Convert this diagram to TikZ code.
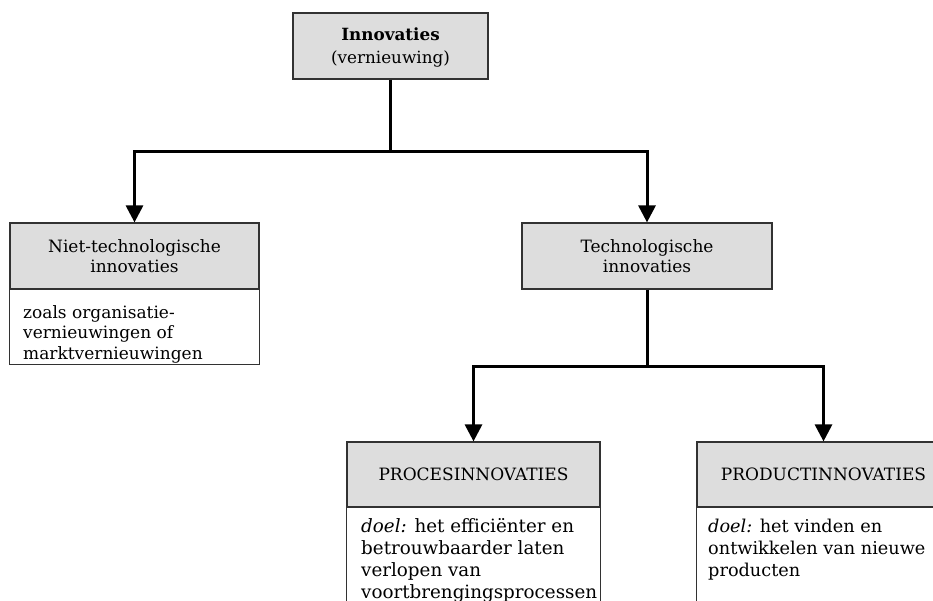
\documentclass[tikz,border=0pt]{standalone}
\usepackage{fontspec}
\setmainfont{DejaVu Serif}
\usetikzlibrary{arrows.meta}
\definecolor{headgray}{RGB}{221,221,221}
\definecolor{edgegray}{RGB}{50,50,50}
\begin{document}
\begin{tikzpicture}[x=1pt,y=-1pt,
  header/.style={draw=edgegray, line width=1.2pt, fill=headgray,
    minimum height=66pt, align=center, inner sep=0pt,
    font=\fontsize{17}{20.5}\selectfont},
  detail/.style={draw=edgegray, line width=1.2pt, fill=white},
  body/.style={anchor=north west, align=left, inner sep=0pt},
  wire/.style={line width=3pt, black},
  tips/.style={{Triangle[width=17pt,length=17pt]}-{Triangle[width=17pt,length=17pt]}}
]
\clip (0,0) rectangle (933,601);
\fill[white] (0,0) rectangle (933,601);

% top level
\node[header, minimum width=195pt, font=\fontsize{16.8}{23}\selectfont]
  (inn) at (390.5,46) {\rule{0pt}{16pt}\textbf{Innovaties}\\(vernieuwing)};

% second level: non-technological
\node[header, minimum width=249pt] (nt) at (134.5,256)
  {Niet-technologische\\innovaties};
\draw[detail] (nt.south west) rectangle ([yshift=-75pt]nt.south east);
\node[body, font=\fontsize{17}{20.5}\selectfont] (ntbody) at (23,305)
  {zoals organisatie-\\vernieuwingen of\\marktvernieuwingen};

% second level: technological
\node[header, minimum width=250pt] (tech) at (647,256)
  {Technologische\\innovaties};

% third level
\node[header, minimum width=253pt, minimum height=65pt] (proc) at (473.5,474.5)
  {PROCESINNOVATIES};
\draw[detail] (proc.south west) rectangle ([yshift=-120pt]proc.south east);
\node[body, font=\fontsize{18.3}{22}\selectfont] (procbody) at (361,518.5)
  {\textit{doel:} het efficiënter en\\betrouwbaarder laten\\verlopen van\\voortbrengingsprocessen};

\node[header, minimum width=253pt, minimum height=65pt] (prod) at (823.5,474.5)
  {PRODUCTINNOVATIES};
\draw[detail] (prod.south west) rectangle ([yshift=-120pt]prod.south east);
\node[body, font=\fontsize{17.7}{22}\selectfont] (prodbody) at (708,518.5)
  {\textit{doel:} het vinden en\\ontwikkelen van nieuwe\\producten};

% connectors
\coordinate (j1) at (390.5,152);
\coordinate (j2) at (647,366);
\draw[wire] (inn.south) -- (j1);
\draw[wire, tips] (nt.north) |- (j1) -| (tech.north);
\draw[wire] (tech.south) -- (j2);
\draw[wire, tips] (proc.north) |- (j2) -| (prod.north);
\end{tikzpicture}
\end{document}
